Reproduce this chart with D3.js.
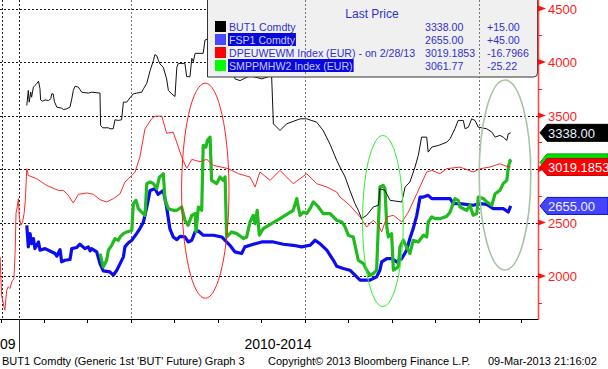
<!DOCTYPE html>
<html>
<head>
<meta charset="utf-8">
<script src="https://cdn.jsdelivr.net/npm/d3@7"></script>
<style>
    body { margin: 0; background: #fff; }
    svg text { font-family: "Liberation Sans", Arial, sans-serif; }
</style>
</head>
<body>
<div id="chart"></div>
<script>
// weeks since 1 Jan 2010, price
const but1 = [[2.6,3594],[3.1,3734],[3.4,3625],[3.9,3718],[4.2,3671],[4.8,3765],[5.3,3780],[5.9,3796],[6.5,3821],[7.0,3749],[7.2,3646],[7.9,3634],[8.7,3646],[9.8,3640],[10.6,3656],[10.9,3702],[11.4,3702],[11.8,3631],[12.6,3578],[14.2,3569],[14.8,3556],[15.9,3562],[17.0,3578],[17.6,3656],[18.1,3734],[18.7,3774],[19.8,3765],[20.9,3718],[23.1,3709],[24.2,3718],[27.0,3709],[27.2,3407],[27.9,3385],[29.8,3385],[30.3,3376],[31.4,3376],[32.0,3460],[33.1,3454],[34.2,3460],[34.8,3625],[35.9,3625],[37.0,3665],[38.1,3702],[39.2,3709],[40.9,3718],[41.5,3749],[42.6,3802],[43.7,3920],[44.8,4013],[45.3,4069],[45.9,4060],[46.5,4013],[47.0,3982],[48.1,3951],[49.2,3842],[49.8,3734],[50.9,3702],[52.0,3678],[52.6,3951],[53.1,3987],[55.3,3987],[55.9,3863],[57.0,3863],[57.6,4034],[58.1,4003],[58.7,4081],[61.4,4081],[62.0,4205],[66.0,4250],[70.0,4100],[72.0,3842],[73.7,3826],[77.0,3873],[80.9,3842],[84.2,3873],[84.8,3422],[87.0,3360],[89.2,3422],[93.7,3469],[95.9,3469],[99.2,3438],[101.4,3360],[103.7,3230],[105.9,3081],[107.0,3018],[108.7,2925],[110.3,2800],[112.0,2676],[113.1,2614],[114.2,2536],[115.9,2567],[118.1,2645],[119.8,2661],[120.3,2816],[122.0,2800],[123.7,2707],[127.6,2692],[128.7,2832],[130.3,2878],[132.0,3018],[133.1,3127],[134.2,3298],[135.9,3298],[136.4,3158],[137.6,3205],[139.8,3220],[142.6,3251],[143.7,3283],[145.3,3376],[146.4,3454],[148.1,3454],[148.7,3376],[149.8,3391],[150.9,3469],[152.0,3454],[153.1,3391],[155.9,3376],[157.6,3345],[158.7,3298],[160.3,3314],[161.4,3298],[162.6,3267],[163.1,3329],[163.9,3338]];

const fsp1 = [[2.6,2474],[3.1,2272],[3.7,2396],[4.2,2303],[4.8,2350],[5.3,2256],[6.5,2318],[7.0,2241],[8.7,2256],[10.3,2234],[12.0,2210],[12.6,2185],[13.7,2247],[14.2,2132],[15.3,2147],[17.0,2154],[17.6,2256],[19.2,2266],[20.3,2297],[22.0,2256],[23.1,2272],[23.7,2234],[24.2,2256],[25.9,2225],[27.0,2116],[28.1,2048],[30.3,2039],[31.4,2007],[32.6,2054],[33.7,2116],[34.8,2179],[35.3,2272],[36.4,2309],[37.6,2334],[39.2,2396],[40.3,2443],[41.5,2505],[42.6,2645],[43.7,2800],[45.3,2816],[46.4,2763],[48.1,2800],[49.2,2645],[50.3,2440],[51.4,2365],[52.6,2340],[53.7,2370],[55.3,2365],[56.4,2318],[57.6,2334],[58.7,2412],[59.8,2421],[61.4,2381],[64.8,2381],[67.6,2365],[68.7,2334],[70.3,2287],[72.0,2225],[74.2,2210],[75.3,2272],[78.1,2297],[80.9,2318],[84.8,2318],[88.1,2297],[91.4,2287],[94.2,2272],[97.0,2287],[98.7,2334],[100.3,2303],[102.6,2241],[104.8,2147],[105.9,2091],[108.1,2070],[110.3,2054],[113.7,1961],[117.0,1961],[119.2,1992],[120.3,2054],[120.9,2132],[122.6,2163],[124.2,2163],[125.9,2132],[127.6,2163],[129.2,2241],[130.3,2350],[131.4,2443],[132.6,2567],[133.7,2738],[134.8,2738],[136.4,2754],[137.6,2723],[143.7,2723],[144.8,2676],[147.0,2676],[151.4,2661],[153.7,2676],[155.9,2670],[158.1,2630],[161.4,2630],[163.1,2598],[163.9,2655]];

const dpeuwewm = [[-6.3,2178],[-5.8,1821],[-5.0,1712],[-4.7,1681],[-4.1,1867],[-3.6,1899],[-3.0,1883],[-2.4,1945],[-1.7,1976],[-1.3,2210],[-1.0,2583],[-0.6,2645],[-0.2,2723],[0.1,2552],[0.6,2474],[1.2,2505],[1.7,2583],[2.1,2707],[2.6,3003],[3.1,2940],[5.9,2909],[9.2,2847],[13.1,2800],[14.8,2800],[16.4,2754],[18.1,2682],[19.8,2763],[22.6,2776],[24.8,2763],[27.0,2713],[29.2,2692],[31.5,2723],[33.7,2769],[35.3,2878],[37.6,2940],[38.7,2972],[40.3,3112],[42.0,3376],[44.2,3469],[45.3,3494],[47.6,3494],[49.2,3333],[51.4,3345],[54.2,3115],[55.9,3006],[57.6,3090],[60.3,3068],[62.6,3090],[64.8,3034],[69.8,3003],[73.1,2956],[77.0,2925],[78.7,2832],[80.3,2972],[83.7,2894],[87.0,2987],[91.4,2863],[95.9,2956],[99.2,2863],[102.6,2832],[105.9,2785],[107.0,2738],[110.3,2660],[113.7,2552],[115.9,2458],[118.1,2521],[119.8,2474],[120.9,2412],[122.6,2552],[124.8,2567],[127.6,2505],[129.8,2598],[132.6,2769],[135.9,2972],[137.6,2987],[140.3,2956],[142.6,3003],[147.0,3018],[151.4,2972],[153.7,3003],[157.0,3018],[160.3,3049],[162.6,3024],[163.9,3019]];

const smppmhw2 = [[27.0,2210],[28.1,2085],[29.2,2147],[29.8,2241],[30.9,2287],[32.0,2350],[33.1,2334],[33.7,2365],[34.8,2396],[35.9,2412],[37.0,2421],[37.6,2427],[38.1,2676],[39.0,2707],[39.8,2629],[40.9,2598],[42.0,2567],[42.6,2863],[43.7,2878],[44.8,2863],[45.9,2816],[46.8,2925],[47.6,2940],[48.1,2956],[48.7,2707],[49.8,2629],[51.4,2614],[52.6,2614],[54.2,2645],[55.3,2521],[56.4,2474],[57.6,2567],[58.7,2583],[59.0,2412],[59.8,2645],[60.9,2614],[61.4,3220],[62.3,3205],[62.8,3267],[63.7,3298],[64.2,2894],[65.9,2863],[67.0,2925],[68.1,2894],[68.7,2925],[69.2,2365],[70.9,2412],[72.6,2396],[74.8,2350],[75.9,2365],[77.0,2505],[78.1,2567],[78.7,2490],[79.4,2614],[80.1,2381],[81.4,2443],[87.0,2536],[91.4,2614],[92.6,2723],[93.1,2645],[93.7,2567],[94.8,2598],[95.9,2583],[97.0,2629],[98.1,2692],[99.8,2645],[101.4,2583],[103.7,2583],[105.9,2521],[107.6,2505],[108.7,2458],[109.8,2380],[111.4,2365],[113.1,2147],[114.8,2116],[115.9,2054],[117.0,2007],[118.1,2023],[119.2,2054],[120.3,2832],[121.4,2847],[122.0,2816],[122.6,2458],[123.1,2365],[124.2,2396],[124.8,2054],[126.4,2085],[127.0,2272],[128.1,2334],[129.2,2272],[130.3,2210],[131.4,2334],[133.1,2318],[134.8,2381],[135.9,2365],[136.4,2505],[137.6,2552],[138.7,2536],[140.3,2536],[142.6,2558],[143.7,2598],[145.3,2723],[146.4,2707],[147.0,2645],[148.1,2629],[149.2,2614],[150.3,2661],[151.4,2567],[152.6,2583],[153.1,2738],[154.8,2723],[155.9,2692],[157.6,2661],[158.7,2769],[160.3,2800],[161.4,2863],[162.6,2894],[163.1,3018],[163.7,3080],[163.9,3062]];

const legendNames = ["BUT1 Comdty", "FSP1 Comdty", "DPEUWEWM Index (EUR) -  on 2/28/13", "SMPPMHW2 Index (EUR)"];
const legendLast = ["3338.00", "2655.00", "3019.1853", "3061.77"];
const legendChange = ["+15.00", "+45.00", "-16.7966", "-25.22"];
const lastValues = [3338.00, 2655.00, 3019.1853, 3061.77];

const yMajorTicks = [4500, 4000, 3500, 3000, 2500, 2000];
const yAxisLabels = [4500, 4000, 3500, 2500, 2000]; // 3000 sits under the price tags
const yMinorTicks = [4250, 3750, 3250, 2750, 2250, 1750];
const xTickWeeks = [-6.0, 8.3, 22.8, 37.3, 51.8, 66.3, 80.8, 95.3, 109.8, 124.3, 138.8, 153.3, 167.3];
const xGridWeeks = [-5.8, 0, 37.3, 95.3, 153.3];
const yearBreakWeek = 0;
const xLabels = ["09", "2010-2014"];

// [centre week, centre price, half width in weeks, half height in price]
const circles = [
    { c: [62.1, 2797, 7.9, 1005], color: "#ff2020", width: 1 },
    { c: [121.3, 2514, 6.8, 799], color: "#33ee33", width: 1 },
    { c: [162.0, 2944, 8.6, 888], color: "#a8c4a8", width: 1.6 }
];

const sizes = {
    width: 608,
    height: 369,
    plotRight: 538,
    plotBottom: 319,
    legendLeft: 207.5,
    legendRight: 537.5,
    legendBottom: 77,
    legendFont: 10.6
};

const x = d3.scaleLinear().domain([-6.333, 173]).range([0, sizes.plotRight]);
const y = d3.scaleLinear().domain([2000, 4500]).range([276, 8.5]);

const svg = d3.select("#chart").append("svg")
    .attr("width", sizes.width)
    .attr("height", sizes.height);

svg.append("rect").attr("width", sizes.width).attr("height", sizes.height).attr("fill", "#fff");

svg.append("defs").append("clipPath").attr("id", "plotClip")
    .append("rect").attr("width", sizes.plotRight).attr("height", sizes.plotBottom);

function crisp(v) { return Math.round(v) + 0.5; }

function drawGrid(g) {
    g.selectAll(".vgrid")
        .data(xGridWeeks)
        .join("line")
        .attr("x1", d => crisp(x(d))).attr("x2", d => crisp(x(d)))
        .attr("y1", 0).attr("y2", sizes.plotBottom)
        .attr("stroke", d => d <= yearBreakWeek ? "#222" : "#777")
        .attr("stroke-dasharray", "2,2");
}

const gridG = svg.append("g");
gridG.selectAll(".hgrid")
    .data(yMajorTicks)
    .join("line")
    .attr("x1", 0).attr("x2", sizes.plotRight)
    .attr("y1", d => crisp(y(d))).attr("y2", d => crisp(y(d)))
    .attr("stroke", "#111")
    .attr("stroke-dasharray", "2,2");
drawGrid(gridG);

const plot = svg.append("g").attr("clip-path", "url(#plotClip)");

const line = d3.line()
    .x(d => x(d[0]))
    .y(d => y(d[1]));

const seriesStyles = [
    { data: fsp1, color: "#0c0cf0", width: 3.2 },
    { data: smppmhw2, color: "#1fbb1f", width: 3.2 },
    { data: dpeuwewm, color: "#ff2a2a", width: 1 },
    { data: but1, color: "#111", width: 1 }
];

seriesStyles.forEach(s => {
    plot.append("path")
        .datum(s.data)
        .attr("fill", "none")
        .attr("stroke", s.color)
        .attr("stroke-width", s.width)
        .attr("stroke-linejoin", "round")
        .attr("d", line);
});

circles.forEach(e => {
    const [cw, cv, rw, rv] = e.c;
    plot.append("ellipse")
        .attr("cx", x(cw))
        .attr("cy", y(cv))
        .attr("rx", x(cw + rw) - x(cw))
        .attr("ry", y(cv - rv) - y(cv))
        .attr("fill", "none")
        .attr("stroke", e.color)
        .attr("stroke-width", e.width);
});

// legend box sits over the series
function drawLegend() {
    const lg = svg.append("g");
    lg.append("path")
        .attr("d", `M${sizes.legendLeft},-1 V${sizes.legendBottom} H${sizes.legendRight - 4} Q${sizes.legendRight},${sizes.legendBottom} ${sizes.legendRight},${sizes.legendBottom - 4} V-1`)
        .attr("fill", "#f0f0f0")
        .attr("stroke", "#333");

    const inner = lg.append("g").attr("clip-path", "url(#legendClip)");
    svg.select("defs").append("clipPath").attr("id", "legendClip")
        .append("rect")
        .attr("x", sizes.legendLeft + 1).attr("y", 0)
        .attr("width", sizes.legendRight - sizes.legendLeft - 2)
        .attr("height", sizes.legendBottom - 1);
    drawGrid(inner);

    lg.append("text")
        .attr("x", 372).attr("y", 18)
        .attr("text-anchor", "middle")
        .attr("font-size", 12)
        .attr("fill", "#3030d0")
        .text("Last Price");

    const swatchColors = ["#000", "#4848ff", "#ff0000", "#00ff00"];
    const highlighted = [false, true, false, true];
    const rowBase = [31, 44, 57, 70];

    legendNames.forEach((name, i) => {
        lg.append("rect")
            .attr("x", 215).attr("y", rowBase[i] - 10)
            .attr("width", 11).attr("height", 11)
            .attr("fill", swatchColors[i]);
        const hl = lg.append("rect");
        const t = lg.append("text")
            .attr("x", 229).attr("y", rowBase[i])
            .attr("font-size", sizes.legendFont)
            .attr("fill", highlighted[i] ? "#c8c8ff" : "#3030d0")
            .text(name);
        if (highlighted[i]) {
            const w = t.node().getComputedTextLength();
            hl.attr("x", 228).attr("y", rowBase[i] - 11)
                .attr("width", w + 2).attr("height", 13)
                .attr("fill", "#0606dd");
        } else {
            hl.remove();
        }
        lg.append("text")
            .attr("x", 425).attr("y", rowBase[i])
            .attr("font-size", sizes.legendFont)
            .attr("fill", "#3030d0")
            .text(legendLast[i]);
        lg.append("text")
            .attr("x", 487).attr("y", rowBase[i])
            .attr("font-size", sizes.legendFont)
            .attr("fill", "#3030d0")
            .text(legendChange[i]);
    });
}
drawLegend();

function drawRightAxis() {
    const ax = svg.append("g");
    ax.append("line")
        .attr("x1", sizes.plotRight + 0.5).attr("x2", sizes.plotRight + 0.5)
        .attr("y1", 0).attr("y2", sizes.plotBottom + 1)
        .attr("stroke", "#ff4a4a")
        .attr("stroke-width", 1.6);

    ax.selectAll(".minor")
        .data(yMinorTicks)
        .join("line")
        .attr("x1", sizes.plotRight).attr("x2", sizes.plotRight + 4)
        .attr("y1", d => crisp(y(d))).attr("y2", d => crisp(y(d)))
        .attr("stroke", "#ff2020");

    ax.selectAll(".major")
        .data(yMajorTicks)
        .join("path")
        .attr("d", d => `M${sizes.plotRight},${y(d) - 3} L${sizes.plotRight + 8},${y(d)} L${sizes.plotRight},${y(d) + 3} Z`)
        .attr("fill", "#ff1010");

    ax.selectAll(".lbl")
        .data(yAxisLabels)
        .join("text")
        .attr("x", sizes.plotRight + 10)
        .attr("y", d => y(d) + 5)
        .attr("font-size", 13)
        .attr("fill", "#ff1a1a")
        .text(d => d);
}
drawRightAxis();

function drawTags() {
    // green tag is mostly covered by the red one, only its top edge shows
    const tags = [
        { v: lastValues[3], fill: "#00dd00", stroke: "#00a000", text: null, label: legendLast[3] },
        { v: lastValues[0], fill: "#000", stroke: "#000", text: "#e8f4ff", label: legendLast[0] },
        { v: lastValues[2], fill: "#ff0000", stroke: "#c00000", text: "#fff", label: legendLast[2] },
        { v: lastValues[1], fill: "#4444ff", stroke: "#1010c0", text: "#f0f0ff", label: legendLast[1] }
    ];
    const tg = svg.append("g");
    tags.forEach(t => {
        const cy = y(t.v);
        tg.append("path")
            .attr("d", `M540,${cy} L547,${cy - 8.5} H608 V${cy + 8.5} H547 Z`)
            .attr("fill", t.fill)
            .attr("stroke", t.stroke);
        if (t.text) {
            tg.append("text")
                .attr("x", 548).attr("y", cy + 5)
                .attr("font-size", 13)
                .attr("fill", t.text)
                .text(t.label);
        }
    });
}
drawTags();

function drawBottomAxis() {
    const ax = svg.append("g");
    ax.append("line")
        .attr("x1", 0).attr("x2", sizes.plotRight)
        .attr("y1", sizes.plotBottom + 0.5).attr("y2", sizes.plotBottom + 0.5)
        .attr("stroke", "#000");
    ax.selectAll(".tick")
        .data(xTickWeeks)
        .join("line")
        .attr("x1", d => crisp(x(d))).attr("x2", d => crisp(x(d)))
        .attr("y1", sizes.plotBottom).attr("y2", sizes.plotBottom + 4)
        .attr("stroke", "#000");
    ax.append("line")
        .attr("x1", crisp(x(yearBreakWeek))).attr("x2", crisp(x(yearBreakWeek)))
        .attr("y1", sizes.plotBottom).attr("y2", 352)
        .attr("stroke", "#333");

    ax.append("text")
        .attr("x", 0).attr("y", 349)
        .attr("font-size", 14)
        .text(xLabels[0]);
    ax.append("text")
        .attr("x", 278).attr("y", 349)
        .attr("text-anchor", "middle")
        .attr("font-size", 14)
        .text(xLabels[1]);

    const footer = [
        { x: 2, t: "BUT1 Comdty (Generic 1st 'BUT' Future) Graph 3" },
        { x: 268, t: "Copyright\u00a9 2013 Bloomberg Finance L.P." },
        { x: 488, t: "09-Mar-2013 21:16:02" }
    ];
    ax.selectAll(".foot")
        .data(footer)
        .join("text")
        .attr("x", d => d.x).attr("y", 365)
        .attr("font-size", 11)
        .text(d => d.t);
}
drawBottomAxis();
</script>
</body>
</html>
